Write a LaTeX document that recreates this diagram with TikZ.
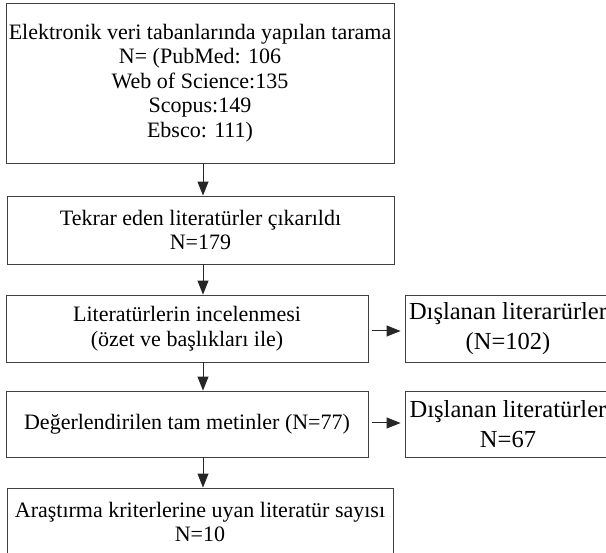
\documentclass[tikz,border=0pt]{standalone}
\usepackage{fontspec}
\setmainfont{Liberation Serif}
\usetikzlibrary{arrows.meta, positioning}
\begin{document}
\begin{tikzpicture}[x=1pt, y=-1pt]
    % Define styles
    \tikzstyle{box} = [rectangle, draw=black!75, line width=0.9pt, align=center, inner sep=0pt, font=\fontsize{22}{24.5}\selectfont]
    \tikzstyle{side} = [box, font=\fontsize{24.5}{30}\selectfont]
    \tikzstyle{line} = [draw=black!85, line width=1pt, -{Triangle[length=14pt, width=11pt]}]

    \useasboundingbox (0,0) rectangle (606,553);
    \coordinate (axis) at (203,0);

    % Main column
    \node[box, minimum width=388pt, minimum height=160pt] (search) at (200,83) {Elektronik veri tabanlarında yapılan tarama\\N= (PubMed: 106\\Web of Science:135\\Scopus:149\\Ebsco: 111)};
    \node[box, minimum width=387pt, minimum height=68pt] (dup) at (200.5,230) {Tekrar eden literatürler çıkarıldı\\N=179};
    \node[box, minimum width=362pt, minimum height=67pt] (screen) at (187,328.5) {Literatürlerin incelenmesi\\(özet ve başlıkları ile)};
    \node[box, minimum width=362pt, minimum height=66pt] (full) at (187,424) {Değerlendirilen tam metinler (N=77)};
    \node[box, minimum width=386pt, minimum height=68pt] (final) at (200,522) {Araştırma kriterlerine uyan literatür sayısı\\N=10};

    % Excluded boxes
    \node[side, minimum width=206pt, minimum height=67pt] (excl1) at (508,328.5) {Dışlanan literarürler\\(N=102)};
    \node[side, minimum width=206pt, minimum height=66pt] (excl2) at (508,424) {Dışlanan literatürler\\N=67};

    % Connections
    \draw[line] (search.south -| axis) -- (dup.north -| axis);
    \draw[line] (dup.south -| axis) -- (screen.north -| axis);
    \draw[line] (screen.south -| axis) -- (full.north -| axis);
    \draw[line] (full.south -| axis) -- (final.north -| axis);

    \draw[line, shorten <=4pt, shorten >=4pt] ([yshift=-2.5pt]screen.east) -- ([yshift=-2.5pt]excl1.west);
    \draw[line, shorten <=4pt, shorten >=4pt] ([yshift=1pt]full.east) -- ([yshift=1pt]excl2.west);
\end{tikzpicture}
\end{document}
